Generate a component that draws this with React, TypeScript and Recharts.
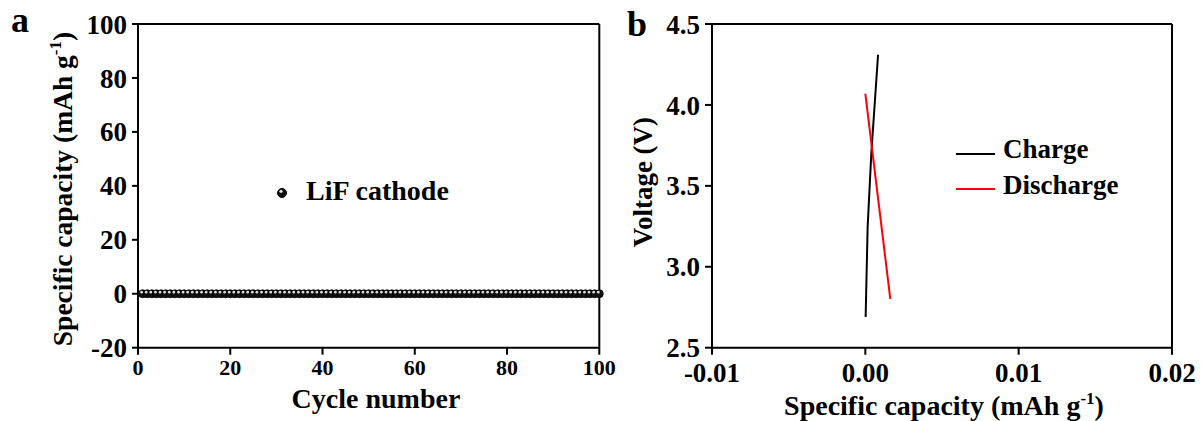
import React from 'react';
import { ComposedChart, Scatter, Line, XAxis, YAxis } from 'recharts';

// ---------- Panel a data ----------
const cycles = [
  1, 2, 3, 4, 5, 6, 7, 8, 9, 10, 11, 12, 13, 14, 15, 16, 17, 18, 19, 20,
  21, 22, 23, 24, 25, 26, 27, 28, 29, 30, 31, 32, 33, 34, 35, 36, 37, 38, 39, 40,
  41, 42, 43, 44, 45, 46, 47, 48, 49, 50, 51, 52, 53, 54, 55, 56, 57, 58, 59, 60,
  61, 62, 63, 64, 65, 66, 67, 68, 69, 70, 71, 72, 73, 74, 75, 76, 77, 78, 79, 80,
  81, 82, 83, 84, 85, 86, 87, 88, 89, 90, 91, 92, 93, 94, 95, 96, 97, 98, 99, 100,
];
const capacity = [
  0, 0, 0, 0, 0, 0, 0, 0, 0, 0, 0, 0, 0, 0, 0, 0, 0, 0, 0, 0,
  0, 0, 0, 0, 0, 0, 0, 0, 0, 0, 0, 0, 0, 0, 0, 0, 0, 0, 0, 0,
  0, 0, 0, 0, 0, 0, 0, 0, 0, 0, 0, 0, 0, 0, 0, 0, 0, 0, 0, 0,
  0, 0, 0, 0, 0, 0, 0, 0, 0, 0, 0, 0, 0, 0, 0, 0, 0, 0, 0, 0,
  0, 0, 0, 0, 0, 0, 0, 0, 0, 0, 0, 0, 0, 0, 0, 0, 0, 0, 0, 0,
];
const cycleTicks = [0, 20, 40, 60, 80, 100];
const cycleMinorTicks = [10, 30, 50, 70, 90];
const capTicks = [-20, 0, 20, 40, 60, 80, 100];
const capMinorTicks = [-10, 10, 30, 50, 70, 90];

// ---------- Panel b data ----------
const chargeCap = [0.00002, 0.00015, 0.00039, 0.00083];
const chargeVolt = [2.69, 3.245, 3.7, 4.31];
const dischargeCap = [0.0, 0.00163];
const dischargeVolt = [4.07, 2.8];
const specTicks = [-0.01, 0, 0.01, 0.02];
const specMinorTicks = [-0.005, 0.005, 0.015];
const voltTicks = [2.5, 3.0, 3.5, 4.0, 4.5];
const voltMinorTicks = [2.75, 3.25, 3.75, 4.25];

const FONT = "'Liberation Serif', 'Times New Roman', serif";

const cycleData = cycles.map((c, i) => ({ x: c, y: capacity[i] }));
const chargeData = chargeCap.map((c, i) => ({ x: c, y: chargeVolt[i] }));
const dischargeData = dischargeCap.map((c, i) => ({ x: c, y: dischargeVolt[i] }));

const axisLine = { stroke: '#000', strokeWidth: 2 };
const tickLine = { stroke: '#000', strokeWidth: 2 };

const Sphere = (props: any) => {
  const { cx, cy } = props;
  if (cx == null || cy == null) return null;
  return (
    <g>
      <circle cx={cx} cy={cy} r={4} fill="#111" stroke="#000" strokeWidth={0.8} />
      <circle cx={cx - 1} cy={cy - 1.6} r={1.4} fill="#d8d8d8" />
    </g>
  );
};

const tickStyle = (size: number) => ({
  fill: '#000',
  fontSize: size,
  style: { fontFamily: FONT, fontWeight: 700 },
});

function PanelA() {
  const W = 620;
  const H = 421;
  return (
    <ComposedChart
      width={W}
      height={H}
      margin={{ top: 23, left: 136, right: W - 599.3 - 1, bottom: H - 347.7 - 2 }}
    >
      <XAxis
        xAxisId="main"
        type="number"
        dataKey="x"
        domain={[0, 100]}
        ticks={cycleTicks}
        height={1}
        tickSize={7}
        tickMargin={5}
        axisLine={axisLine}
        tickLine={tickLine}
        tick={tickStyle(22)}
        interval={0}
      />
      <XAxis
        xAxisId="minor"
        type="number"
        domain={[0, 100]}
        ticks={cycleMinorTicks}
        height={1}
        tickSize={3}
        axisLine={false}
        tickLine={tickLine}
        tick={false}
        interval={0}
      />
      <XAxis
        xAxisId="top"
        orientation="top"
        type="number"
        domain={[0, 100]}
        height={1}
        axisLine={axisLine}
        tickLine={false}
        tick={false}
      />
      <YAxis
        yAxisId="main"
        type="number"
        dataKey="y"
        domain={[-20, 100]}
        ticks={capTicks}
        width={1}
        tickSize={6}
        tickMargin={5}
        axisLine={axisLine}
        tickLine={tickLine}
        tick={tickStyle(27)}
        interval={0}
      />
      <YAxis
        yAxisId="minor"
        type="number"
        domain={[-20, 100]}
        ticks={capMinorTicks}
        width={1}
        tickSize={2}
        axisLine={false}
        tickLine={tickLine}
        tick={false}
        interval={0}
      />
      <YAxis
        yAxisId="right"
        orientation="right"
        type="number"
        domain={[-20, 100]}
        width={1}
        axisLine={axisLine}
        tickLine={false}
        tick={false}
      />
      <Scatter
        xAxisId="main"
        yAxisId="main"
        data={cycleData}
        dataKey="y"
        shape={<Sphere />}
        isAnimationActive={false}
      />
    </ComposedChart>
  );
}

function PanelB() {
  const W = 581;
  const H = 421;
  return (
    <ComposedChart
      width={W}
      height={H}
      margin={{ top: 23, left: 90, right: W - 552 - 1, bottom: H - 347.7 - 2 }}
    >
      <XAxis
        xAxisId="main"
        type="number"
        dataKey="x"
        domain={[-0.01, 0.02]}
        ticks={specTicks}
        height={1}
        tickSize={7}
        tickMargin={8}
        axisLine={axisLine}
        tickLine={tickLine}
        tick={tickStyle(27)}
        tickFormatter={(v: number) => v.toFixed(2)}
        interval={0}
        allowDataOverflow
      />
      <XAxis
        xAxisId="minor"
        type="number"
        domain={[-0.01, 0.02]}
        ticks={specMinorTicks}
        height={1}
        tickSize={4}
        axisLine={false}
        tickLine={tickLine}
        tick={false}
        interval={0}
        allowDataOverflow
      />
      <XAxis
        xAxisId="top"
        orientation="top"
        type="number"
        domain={[-0.01, 0.02]}
        height={1}
        axisLine={axisLine}
        tickLine={false}
        tick={false}
        allowDataOverflow
      />
      <YAxis
        yAxisId="main"
        type="number"
        dataKey="y"
        domain={[2.5, 4.5]}
        ticks={voltTicks}
        width={1}
        tickSize={7}
        tickMargin={5}
        axisLine={axisLine}
        tickLine={tickLine}
        tick={tickStyle(27)}
        tickFormatter={(v: number) => v.toFixed(1)}
        interval={0}
        allowDataOverflow
      />
      <YAxis
        yAxisId="minor"
        type="number"
        domain={[2.5, 4.5]}
        ticks={voltMinorTicks}
        width={1}
        tickSize={3}
        axisLine={false}
        tickLine={tickLine}
        tick={false}
        interval={0}
        allowDataOverflow
      />
      <YAxis
        yAxisId="right"
        orientation="right"
        type="number"
        domain={[2.5, 4.5]}
        width={1}
        axisLine={axisLine}
        tickLine={false}
        tick={false}
        allowDataOverflow
      />
      <Line
        xAxisId="main"
        yAxisId="main"
        data={chargeData}
        dataKey="y"
        type="linear"
        stroke="#000"
        strokeWidth={2}
        dot={false}
        isAnimationActive={false}
      />
      <Line
        xAxisId="main"
        yAxisId="main"
        data={dischargeData}
        dataKey="y"
        type="linear"
        stroke="#ff0000"
        strokeWidth={2}
        dot={false}
        isAnimationActive={false}
      />
    </ComposedChart>
  );
}

function Overlay() {
  const s = { fontFamily: FONT, fontWeight: 700 } as const;
  return (
    <svg
      width={1201}
      height={421}
      style={{ position: 'absolute', left: 0, top: 0, pointerEvents: 'none' }}
    >
      {/* panel letters */}
      <text x={11} y={32} fontSize={36} fill="#000" style={s}>a</text>
      <text x={627} y={36} fontSize={36} fill="#000" style={s}>b</text>

      {/* panel a titles */}
      <text x={376} y={408} fontSize={28} textAnchor="middle" fill="#000" style={s}>
        Cycle number
      </text>
      <text
        x={72}
        y={189}
        fontSize={27.5}
        textAnchor="middle"
        transform="rotate(-90 72 189)"
        fill="#000"
        style={s}
      >
        Specific capacity (mAh g
        <tspan fontSize={17} dy={-11}>-1</tspan>
        <tspan dy={11}>)</tspan>
      </text>

      {/* panel a legend */}
      <circle cx={282} cy={193} r={4.5} fill="#111" stroke="#000" />
      <circle cx={281} cy={191.3} r={1.6} fill="#e0e0e0" />
      <text x={306} y={200} fontSize={28} fill="#000" style={s}>LiF cathode</text>

      {/* panel b titles */}
      <text x={944} y={415} fontSize={28} textAnchor="middle" fill="#000" style={s}>
        Specific capacity (mAh g
        <tspan fontSize={17} dy={-11}>-1</tspan>
        <tspan dy={11}>)</tspan>
      </text>
      <text
        x={652}
        y={182}
        fontSize={27}
        textAnchor="middle"
        transform="rotate(-90 652 182)"
        fill="#000"
        style={s}
      >
        Voltage (V)
      </text>

      {/* panel b legend */}
      <line x1={956} y1={154} x2={995} y2={154} stroke="#000" strokeWidth={2} />
      <text x={1003} y={158} fontSize={27} fill="#000" style={s}>Charge</text>
      <line x1={956} y1={189} x2={995} y2={189} stroke="#ff0000" strokeWidth={2} />
      <text x={1003} y={194} fontSize={27} fill="#000" style={s}>Discharge</text>
    </svg>
  );
}

export default function App() {
  return (
    <div
      style={{
        position: 'absolute',
        left: 0,
        top: 0,
        width: 1201,
        height: 421,
        background: '#fff',
        overflow: 'hidden',
      }}
    >
      <div style={{ position: 'absolute', left: 0, top: 0 }}>
        <PanelA />
      </div>
      <div style={{ position: 'absolute', left: 620, top: 0 }}>
        <PanelB />
      </div>
      <Overlay />
    </div>
  );
}
